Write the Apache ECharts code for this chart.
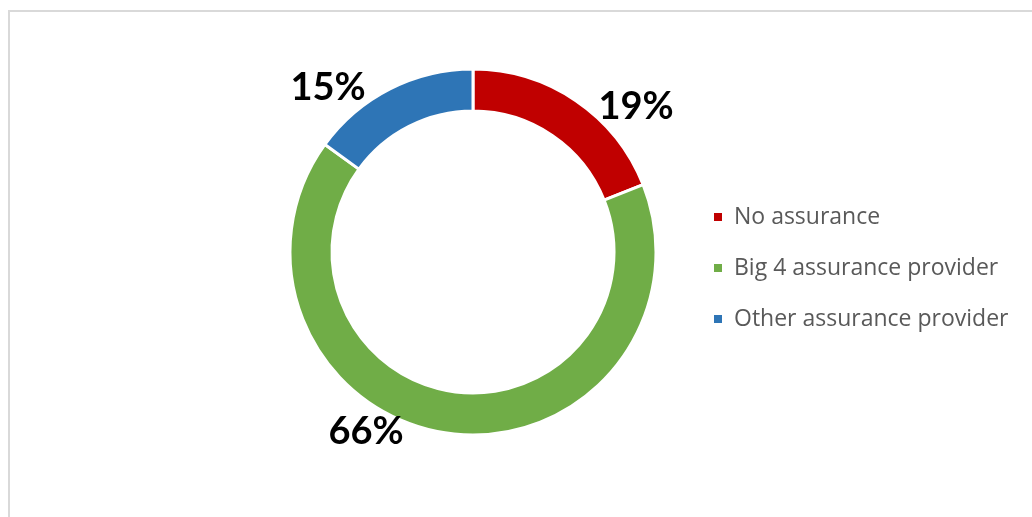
<!DOCTYPE html>
<html>
<head>
<meta charset="utf-8">
<script src="https://cdn.jsdelivr.net/npm/echarts@6/dist/echarts.min.js"></script>
<style>
	html, body { margin: 0; padding: 0; background: #fff; overflow: hidden; }
	#frame { position: absolute; left: 8px; top: 10px; width: 1060px; height: 560px; border: 2px solid #d9d9d9; box-sizing: border-box; }
	#main { position: absolute; left: 0; top: 0; width: 1032px; height: 517px; }
</style>
</head>
<body>
<div id="frame"></div>
<div id="main"></div>
<script>
var categories = ['No assurance', 'Big 4 assurance provider', 'Other assurance provider'];
var shares = [19, 66, 15];
var colors = ['#C00000', '#70AD47', '#2E75B6'];

// where the percent labels sit (they were dragged by hand in the original)
var labelSpots = [[636, 107], [366, 432], [328, 88]];

var pieData = [];
for (var i = 0; i < categories.length; i++) {
	pieData.push({
		name : categories[i],
		value : shares[i],
		itemStyle : { color : colors[i] }
	});
}

var chart = echarts.init(document.getElementById('main'));
chart.setOption({
	animation : false,
	legend : {
		orient : 'vertical',
		left : 707,
		top : 200,
		itemWidth : 10,
		itemHeight : 10,
		itemGap : 27,
		icon : 'rect',
		data : categories,
		textStyle : {
			color : '#595959',
			fontSize : 23,
			lineHeight : 24,
			padding : [ 0, 0, 0, 6 ],
			fontFamily : 'Open Sans'
		}
	},
	series : [ {
		type : 'pie',
		center : [ 473, 252 ],
		radius : [ 141, 183 ],
		startAngle : 90,
		clockwise : true,
		itemStyle : {
			borderColor : '#fff',
			borderWidth : 3
		},
		label : {
			show : true,
			position : 'outside',
			formatter : '{d}%',
			color : '#000',
			fontSize : 38,
			fontWeight : 'bold',
			fontFamily : 'Lato'
		},
		labelLine : { show : false },
		labelLayout : function(params) {
			var p = labelSpots[params.dataIndex];
			return { x : p[0], y : p[1], align : 'center', verticalAlign : 'middle' };
		},
		emphasis : { disabled : true },
		data : pieData
	} ]
});
</script>
</body>
</html>
